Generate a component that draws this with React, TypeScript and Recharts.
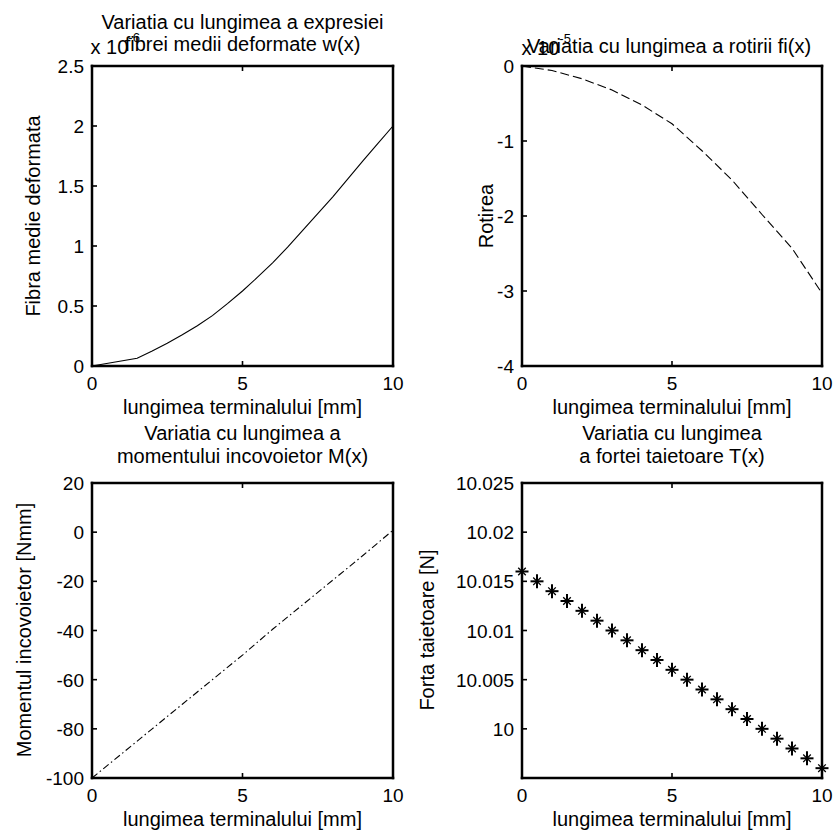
import React from 'react';
import { LineChart, Line, XAxis, YAxis } from 'recharts';

/* ── Data ─────────────────────────────────────────── */
// w(x), values in units of 1e-6
const W_X = [0, 1.5, 2, 2.5, 3, 3.5, 4, 4.5, 5, 5.5, 6, 6.5, 7, 7.5, 8, 8.5, 9, 9.5, 10];
const W_VAL = [0, 0.065, 0.125, 0.19, 0.26, 0.335, 0.42, 0.52, 0.625, 0.74, 0.86, 0.99, 1.13, 1.27, 1.41, 1.56, 1.71, 1.855, 2.0];

// fi(x), values in units of 1e-5
const FI_X = [0, 1, 2, 3, 4, 5, 6, 7, 8, 9, 10];
const FI_VAL = [0, -0.06, -0.17, -0.32, -0.52, -0.77, -1.13, -1.52, -1.98, -2.43, -3.03];

// M(x) [Nmm]
const M_X = [0, 1, 2, 3, 4, 5, 6, 7, 8, 9, 10];
const M_VAL = [-100, -90, -80, -70, -60, -50, -39.5, -29.5, -19.5, -9.5, 0.8];

// T(x) [N]
const T_X = [0, 0.5, 1, 1.5, 2, 2.5, 3, 3.5, 4, 4.5, 5, 5.5, 6, 6.5, 7, 7.5, 8, 8.5, 9, 9.5, 10];
const T_VAL = [
    10.016, 10.015, 10.014, 10.013, 10.012, 10.011, 10.010, 10.009, 10.008, 10.007, 10.006,
    10.005, 10.004, 10.003, 10.002, 10.001, 10.000, 9.999, 9.998, 9.997, 9.996,
];

const X_TICKS = [0, 5, 10];
const W_TICKS = [0, 0.5, 1, 1.5, 2, 2.5];
const FI_TICKS = [-4, -3, -2, -1, 0];
const M_TICKS = [-100, -80, -60, -40, -20, 0, 20];
const T_TICKS = [10, 10.005, 10.01, 10.015, 10.02, 10.025];

/* ── Layout ───────────────────────────────────────── */
const W = 834;
const H = 836;
const INK = '#000';
const TICK = 5;
const FONT = '"Liberation Sans", Arial, Helvetica, sans-serif';
const AXIS = { stroke: INK, strokeWidth: 2.5, strokeLinecap: 'square' as const };

type Box = { left: number; top: number; right: number; bottom: number };

const BOX_TL: Box = { left: 92, top: 66, right: 393, bottom: 366 };
const BOX_TR: Box = { left: 522, top: 66, right: 822, bottom: 366 };
const BOX_BL: Box = { left: 92, top: 483, right: 393, bottom: 778 };
const BOX_BR: Box = { left: 522, top: 483, right: 822, bottom: 778 };

const zip = (xs: number[], ys: number[]) => xs.map((x, i) => ({ x, y: ys[i] }));

/* ── Star marker (matlab '*') ─────────────────────── */
const renderStar = (p: any) => {
    const { cx, cy } = p;
    return (
        <g key={`star-${p.index}`} stroke={INK}>
            <line x1={cx - 6.5} x2={cx + 6.5} y1={cy} y2={cy} strokeWidth={2} />
            <line x1={cx} x2={cx} y1={cy - 7} y2={cy + 7} strokeWidth={2} />
            <line x1={cx - 3.8} x2={cx + 3.8} y1={cy - 3.8} y2={cy + 3.8} strokeWidth={1.3} />
            <line x1={cx - 3.8} x2={cx + 3.8} y1={cy + 3.8} y2={cy - 3.8} strokeWidth={1.3} />
        </g>
    );
};

/* ── One subplot ──────────────────────────────────── */
type PanelProps = {
    box: Box;
    data: { x: number; y: number }[];
    yDomain: [number, number];
    yTicks: number[];
    dash?: string;
    stars?: boolean;
};

const Panel: React.FC<PanelProps> = ({ box, data, yDomain, yTicks, dash, stars }) => {
    const tickBottom = (p: any) => (
        <g>
            <line x1={p.x} x2={p.x} y1={box.bottom} y2={box.bottom - TICK} stroke={INK} strokeWidth={1.6} />
            <text x={p.x} y={box.bottom + 24} textAnchor="middle" fontSize={19} fill={INK}>
                {String(p.payload.value)}
            </text>
        </g>
    );
    const tickTop = (p: any) => (
        <line x1={p.x} x2={p.x} y1={box.top} y2={box.top + TICK} stroke={INK} strokeWidth={1.6} />
    );
    const tickLeft = (p: any) => (
        <g>
            <line x1={box.left} x2={box.left + TICK} y1={p.y} y2={p.y} stroke={INK} strokeWidth={1.6} />
            <text x={box.left - 8} y={p.y + 7} textAnchor="end" fontSize={19} fill={INK}>
                {String(p.payload.value)}
            </text>
        </g>
    );
    const tickRight = (p: any) => (
        <line x1={box.right} x2={box.right - TICK} y1={p.y} y2={p.y} stroke={INK} strokeWidth={1.6} />
    );

    // axes are 1px thick bands, so the margins leave room for them
    return (
        <div style={{ position: 'absolute', left: 0, top: 0 }}>
            <LineChart
                width={W}
                height={H}
                data={data}
                margin={{ top: box.top - 1, left: box.left - 1, right: W - box.right - 1, bottom: H - box.bottom - 1 }}
            >
                <XAxis xAxisId="b" dataKey="x" type="number" domain={[0, 10]} ticks={X_TICKS}
                    height={1} tickSize={0} tickLine={false} axisLine={AXIS} tick={tickBottom} interval={0} />
                <XAxis xAxisId="t" orientation="top" dataKey="x" type="number" domain={[0, 10]} ticks={X_TICKS}
                    height={1} tickSize={0} tickLine={false} axisLine={AXIS} tick={tickTop} interval={0} />
                <YAxis yAxisId="l" type="number" domain={yDomain} ticks={yTicks}
                    width={1} tickSize={0} tickLine={false} axisLine={AXIS} tick={tickLeft} interval={0} />
                <YAxis yAxisId="r" orientation="right" type="number" domain={yDomain} ticks={yTicks}
                    width={1} tickSize={0} tickLine={false} axisLine={AXIS} tick={tickRight} interval={0} />
                <Line
                    xAxisId="b"
                    yAxisId="l"
                    dataKey="y"
                    type="linear"
                    stroke={stars ? 'none' : INK}
                    strokeWidth={1.1}
                    strokeDasharray={dash}
                    dot={stars ? renderStar : false}
                    activeDot={false}
                    isAnimationActive={false}
                />
            </LineChart>
        </div>
    );
};

/* ── Texts ────────────────────────────────────────── */
const XLABEL = 'lungimea terminalului [mm]';

const Texts: React.FC = () => (
    <svg width={W} height={H} style={{ position: 'absolute', left: 0, top: 0, pointerEvents: 'none' }}
        fontFamily={FONT} fill={INK}>
        {/* titles */}
        <text x={242.5} y={28.5} fontSize={20} textAnchor="middle">Variatia cu lungimea a expresiei</text>
        <text x={242.5} y={50.5} fontSize={20} textAnchor="middle">fibrei medii deformate w(x)</text>
        <text x={669} y={52.5} fontSize={20} textAnchor="middle">Variatia cu lungimea a rotirii fi(x)</text>
        <text x={242.5} y={440} fontSize={20} textAnchor="middle">Variatia cu lungimea a</text>
        <text x={242.5} y={462.5} fontSize={20} textAnchor="middle">momentului incovoietor M(x)</text>
        <text x={672} y={440} fontSize={20} textAnchor="middle">Variatia cu lungimea</text>
        <text x={672} y={462.5} fontSize={20} textAnchor="middle">a fortei taietoare T(x)</text>

        {/* exponent labels */}
        <text x={90.5} y={54} fontSize={20}>x 10<tspan fontSize={13} dy={-12}>-6</tspan></text>
        <text x={521.5} y={55} fontSize={20}>x 10<tspan fontSize={13} dy={-12}>-5</tspan></text>

        {/* x labels */}
        <text x={242.5} y={414} fontSize={20} textAnchor="middle">{XLABEL}</text>
        <text x={672} y={414} fontSize={20} textAnchor="middle">{XLABEL}</text>
        <text x={242.5} y={826} fontSize={20} textAnchor="middle">{XLABEL}</text>
        <text x={672} y={826} fontSize={20} textAnchor="middle">{XLABEL}</text>

        {/* y labels */}
        <text x={40} y={216} fontSize={20} textAnchor="middle" transform="rotate(-90 40 216)">Fibra medie deformata</text>
        <text x={493} y={216} fontSize={20} textAnchor="middle" transform="rotate(-90 493 216)">Rotirea</text>
        <text x={31} y={630} fontSize={20} textAnchor="middle" transform="rotate(-90 31 630)">Momentul incovoietor [Nmm]</text>
        <text x={434} y={630} fontSize={20} textAnchor="middle" transform="rotate(-90 434 630)">Forta taietoare [N]</text>
    </svg>
);

/* ── App ──────────────────────────────────────────── */
const App: React.FC = () => (
    <div style={{ position: 'absolute', left: 0, top: 0, width: W, height: H, background: '#fff', fontFamily: FONT }}>
        <Panel box={BOX_TL} data={zip(W_X, W_VAL)} yDomain={[0, 2.5]} yTicks={W_TICKS} />
        <Panel box={BOX_TR} data={zip(FI_X, FI_VAL)} yDomain={[-4, 0]} yTicks={FI_TICKS} dash="9 4" />
        <Panel box={BOX_BL} data={zip(M_X, M_VAL)} yDomain={[-100, 20]} yTicks={M_TICKS} dash="7 3 1.5 3" />
        <Panel box={BOX_BR} data={zip(T_X, T_VAL)} yDomain={[9.995, 10.025]} yTicks={T_TICKS} stars />
        <Texts />
    </div>
);

export default App;
